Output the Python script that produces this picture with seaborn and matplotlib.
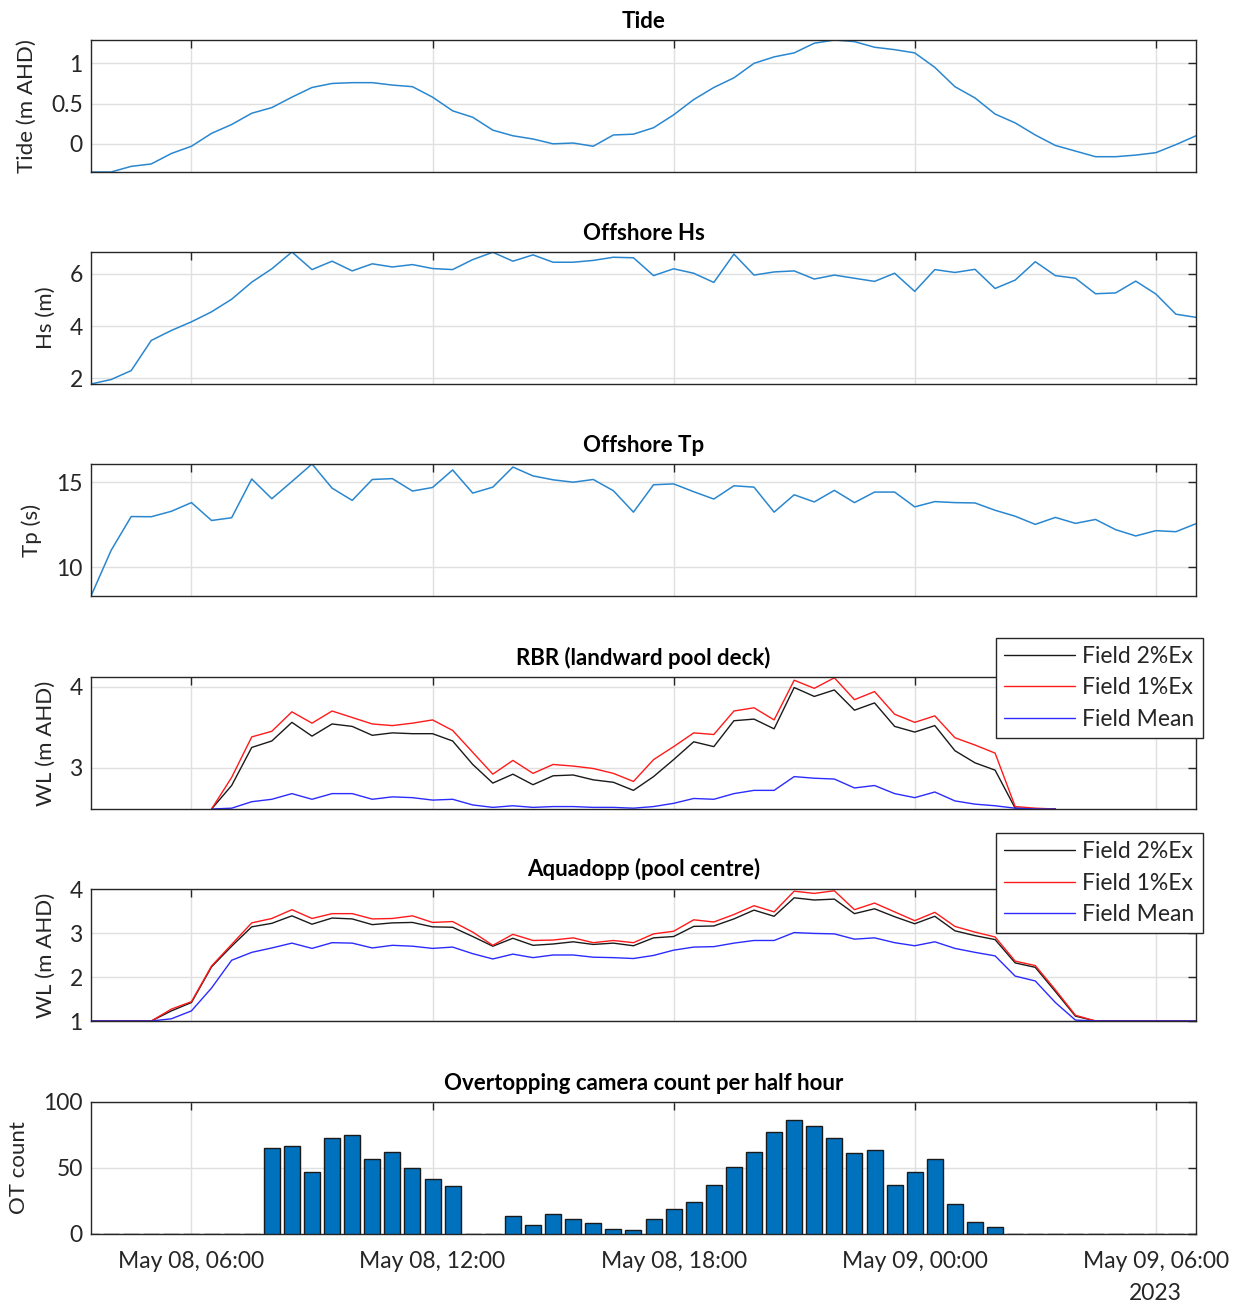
import numpy as np
import pandas as pd
import seaborn as sns
import matplotlib.pyplot as plt
import matplotlib.dates as mdates

# half-hourly time base, 08 May 03:30 -> 09 May 07:00
times = pd.date_range("2023-05-08 03:30", periods=56, freq="30min")

tide = [-0.35, -0.35, -0.28, -0.25, -0.12, -0.03, 0.13, 0.24, 0.38, 0.45,
        0.58, 0.70, 0.75, 0.76, 0.76, 0.73, 0.71, 0.58, 0.41, 0.33,
        0.17, 0.10, 0.06, 0.00, 0.01, -0.03, 0.11, 0.12, 0.20, 0.36,
        0.55, 0.70, 0.82, 1.00, 1.08, 1.13, 1.25, 1.29, 1.27, 1.20,
        1.17, 1.13, 0.95, 0.71, 0.57, 0.37, 0.26, 0.11, -0.02, -0.09,
        -0.16, -0.16, -0.14, -0.11, -0.01, 0.10]

hs = [1.79, 1.96, 2.30, 3.45, 3.83, 4.16, 4.54, 5.02, 5.67, 6.18,
      6.82, 6.15, 6.47, 6.10, 6.37, 6.25, 6.34, 6.19, 6.15, 6.53,
      6.81, 6.47, 6.71, 6.43, 6.43, 6.50, 6.62, 6.60, 5.92, 6.18,
      6.01, 5.66, 6.74, 5.94, 6.06, 6.10, 5.79, 5.94, 5.82, 5.70,
      6.01, 5.32, 6.15, 6.04, 6.16, 5.43, 5.75, 6.45, 5.92, 5.82,
      5.23, 5.26, 5.71, 5.22, 4.45, 4.33]

tp = [8.31, 10.99, 12.98, 12.97, 13.29, 13.80, 12.75, 12.91, 15.19, 14.03,
      15.04, 16.07, 14.65, 13.93, 15.16, 15.21, 14.48, 14.69, 15.72, 14.36,
      14.71, 15.89, 15.37, 15.14, 15.00, 15.16, 14.50, 13.24, 14.85, 14.90,
      14.44, 14.01, 14.79, 14.71, 13.24, 14.26, 13.84, 14.52, 13.80, 14.42,
      14.42, 13.55, 13.86, 13.80, 13.78, 13.35, 13.00, 12.52, 12.93, 12.58,
      12.81, 12.21, 11.84, 12.15, 12.09, 12.56]

nan = np.nan
rbr_2 = [nan] * 6 + [
    2.49, 2.78, 3.25, 3.33, 3.56, 3.39, 3.54, 3.51, 3.40, 3.43,
    3.42, 3.42, 3.33, 3.04, 2.81, 2.92, 2.79, 2.90, 2.91, 2.85,
    2.82, 2.72, 2.89, 3.10, 3.32, 3.26, 3.58, 3.60, 3.48, 3.99,
    3.88, 3.96, 3.71, 3.80, 3.51, 3.44, 3.52, 3.21, 3.06, 2.97,
    2.50, 2.49, 2.49] + [nan] * 7
rbr_1 = [nan] * 6 + [
    2.49, 2.88, 3.38, 3.45, 3.69, 3.55, 3.70, 3.62, 3.54, 3.52,
    3.55, 3.59, 3.46, 3.19, 2.92, 3.09, 2.93, 3.04, 3.02, 2.99,
    2.93, 2.83, 3.10, 3.26, 3.43, 3.41, 3.70, 3.74, 3.59, 4.08,
    3.98, 4.11, 3.84, 3.94, 3.66, 3.56, 3.64, 3.37, 3.28, 3.18,
    2.52, 2.50, 2.49] + [nan] * 7
rbr_mean = [nan] * 6 + [
    2.49, 2.50, 2.58, 2.61, 2.68, 2.61, 2.68, 2.68, 2.61, 2.64,
    2.63, 2.60, 2.61, 2.54, 2.51, 2.53, 2.51, 2.52, 2.52, 2.51,
    2.51, 2.50, 2.52, 2.56, 2.62, 2.61, 2.68, 2.72, 2.72, 2.89,
    2.87, 2.86, 2.75, 2.78, 2.68, 2.63, 2.70, 2.59, 2.55, 2.53,
    2.50, 2.49, 2.49] + [nan] * 7

aq_2 = [1.0, 1.0, 1.0, 1.0, 1.23, 1.42, 2.23, 2.70, 3.14, 3.22,
        3.39, 3.20, 3.34, 3.32, 3.19, 3.23, 3.24, 3.14, 3.13, 2.92,
        2.70, 2.88, 2.72, 2.75, 2.80, 2.74, 2.77, 2.71, 2.89, 2.92,
        3.15, 3.16, 3.32, 3.52, 3.38, 3.80, 3.75, 3.77, 3.44, 3.55,
        3.37, 3.21, 3.38, 3.05, 2.94, 2.85, 2.32, 2.22, 1.67, 1.11,
        1.0, 1.0, 1.0, 1.0, 1.0, 1.0]
aq_1 = [1.0, 1.0, 1.0, 1.0, 1.27, 1.44, 2.25, 2.74, 3.23, 3.33,
        3.53, 3.33, 3.44, 3.44, 3.32, 3.33, 3.39, 3.24, 3.26, 3.02,
        2.72, 2.97, 2.83, 2.84, 2.89, 2.78, 2.83, 2.78, 2.98, 3.04,
        3.30, 3.25, 3.42, 3.62, 3.48, 3.95, 3.90, 3.96, 3.53, 3.68,
        3.48, 3.28, 3.47, 3.15, 3.02, 2.91, 2.36, 2.26, 1.71, 1.13,
        1.0, 1.0, 1.0, 1.0, 1.0, 1.0]
aq_mean = [1.0, 1.0, 1.0, 1.0, 1.05, 1.23, 1.75, 2.38, 2.56, 2.66,
           2.77, 2.65, 2.78, 2.77, 2.66, 2.72, 2.70, 2.65, 2.68, 2.53,
           2.41, 2.52, 2.44, 2.50, 2.50, 2.45, 2.44, 2.42, 2.49, 2.61,
           2.68, 2.69, 2.77, 2.83, 2.83, 3.01, 2.99, 2.98, 2.86, 2.89,
           2.78, 2.71, 2.80, 2.65, 2.56, 2.48, 2.02, 1.91, 1.42, 1.02,
           1.0, 1.0, 1.0, 1.0, 1.0, 1.0]

ot_count = [0, 0, 0, 0, 0, 0, 0, 0, 0, 65,
            67, 47, 73, 75, 57, 62, 50, 42, 36, 0,
            0, 14, 7, 15, 11, 8, 4, 3, 11, 19,
            24, 37, 51, 62, 77, 86, 82, 73, 61, 64,
            37, 47, 57, 23, 9, 5, 0, 0, 0, 0,
            0, 0, 0, 0, 0, 0]

df = pd.DataFrame({"time": times, "tide": tide, "hs": hs, "tp": tp,
                   "rbr_2": rbr_2, "rbr_1": rbr_1, "rbr_mean": rbr_mean,
                   "aq_2": aq_2, "aq_1": aq_1, "aq_mean": aq_mean,
                   "ot": ot_count})

sns.set_style("white")
plt.rcParams['font.family'] = ['Lato', 'DejaVu Sans']
plt.rcParams['font.size'] = 16
txt = '#262626'

fig = plt.figure(figsize=(12.36, 13.04), dpi=100)
W, H = 1236, 1304
left, width, height = 91, 1105, 132
tops = [40, 252, 464, 677, 889, 1102]
axes = [fig.add_axes([left / W, 1 - (t + height) / H, width / W, height / H]) for t in tops]

blue = '#2a87cf'
sns.lineplot(data=df, x="time", y="tide", ax=axes[0], color=blue, lw=1.1)
sns.lineplot(data=df, x="time", y="hs", ax=axes[1], color=blue, lw=1.1)
sns.lineplot(data=df, x="time", y="tp", ax=axes[2], color=blue, lw=1.1)

for ax, pre in [(axes[3], "rbr"), (axes[4], "aq")]:
    sns.lineplot(data=df, x="time", y=pre + "_2", ax=ax, color='#1a1a1a', lw=1.0, label="Field 2%Ex")
    sns.lineplot(data=df, x="time", y=pre + "_1", ax=ax, color='#ff1a1a', lw=1.0, label="Field 1%Ex")
    sns.lineplot(data=df, x="time", y=pre + "_mean", ax=ax, color='#2b2bff', lw=1.0, label="Field Mean")

axes[5].bar(df["time"], df["ot"], width=0.8 * 0.5 / 24, color='#0072BD',
            edgecolor='#1a1a1a', linewidth=1.0, zorder=3)

titles = ["Tide", "Offshore Hs", "Offshore Tp", "RBR (landward pool deck)",
          "Aquadopp (pool centre)", "Overtopping camera count per half hour"]
ylabels = ["Tide (m AHD)", "Hs (m)", "Tp (s)", "WL (m AHD)", "WL (m AHD)", "OT count"]
ylims = [(-0.35, 1.29), (1.79, 6.82), (8.31, 16.07), (2.49, 4.12), (1, 4), (0, 100)]
yticks = [[0, 0.5, 1], [2, 4, 6], [10, 15], [3, 4], [1, 2, 3, 4], [0, 50, 100]]
yticklabels = [["0", "0.5", "1"], None, None, None, None, None]

for i, ax in enumerate(axes):
    ax.set_xlim(times[0], times[-1])
    ax.set_ylim(*ylims[i])
    ax.set_yticks(yticks[i])
    if yticklabels[i]:
        ax.set_yticklabels(yticklabels[i])
    ax.set_title(titles[i], fontweight='bold', fontsize=16, color='black', pad=9)
    ax.set_ylabel(ylabels[i], color=txt, fontsize=16, labelpad=10)
    ax.set_xlabel("")
    ax.xaxis.set_major_locator(mdates.HourLocator(byhour=[0, 6, 12, 18]))
    ax.xaxis.set_major_formatter(mdates.DateFormatter("%b %d, %H:%M"))
    ax.grid(True, color='#e0e0e0', lw=1.0, zorder=0)
    ax.set_axisbelow(True)
    ax.tick_params(direction='in', length=6, width=1.0, color='#262626',
                   top=True, right=True, labelsize=16.5, labelcolor=txt, pad=6)
    for s in ax.spines.values():
        s.set_color('#262626')
        s.set_linewidth(1.0)
    if i < 5:
        ax.tick_params(labelbottom=False)

for ax, top in [(axes[3], 1.295), (axes[4], 1.421)]:
    leg = ax.legend(loc='upper right', bbox_to_anchor=(1.006, top), borderaxespad=0,
                    fancybox=False, edgecolor='#262626', framealpha=1,
                    handlelength=3.1, handletextpad=0.3, borderpad=0.35,
                    fontsize=16.5, labelspacing=0.45)
    leg.get_frame().set_linewidth(1.0)
    for t in leg.get_texts():
        t.set_color(txt)

axes[5].tick_params(axis='x', pad=12)
fig.text(1155 / W, 1 - 1293 / H, "2023", ha='center', va='center', fontsize=16.5, color=txt)

fig.savefig("out.png", dpi=100)
